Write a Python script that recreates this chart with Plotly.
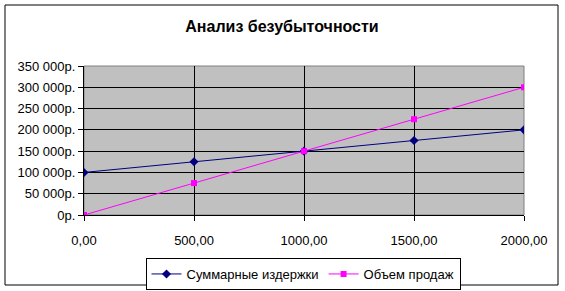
import plotly.graph_objects as go

volume = [0, 500, 1000, 1500, 2000]
total_costs = [100000, 125000, 150000, 175000, 200000]
sales = [0, 75000, 150000, 225000, 300000]

x_tickvals = [0, 500, 1000, 1500, 2000]
x_ticktext = ["0,00", "500,00", "1000,00", "1500,00", "2000,00"]
y_tickvals = [0, 50000, 100000, 150000, 200000, 250000, 300000, 350000]
y_ticktext = ["0р.", "50 000р.", "100 000р.", "150 000р.", "200 000р.",
              "250 000р.", "300 000р.", "350 000р."]

W, H = 565, 291
L, R, T, B = 84, 41, 66, 76
pw, ph = W - L - R, H - T - B

def px_x(x):
    return (x - L) / pw

def px_y(y):
    return (H - B - y) / ph

FAM = "Liberation Sans, Arial, sans-serif"
font = dict(family=FAM, size=13, color="black")

fig = go.Figure()
fig.add_trace(go.Scatter(
    x=volume, y=total_costs, name="Суммарные издержки", mode="lines+markers",
    line=dict(color="#000080", width=1),
    marker=dict(symbol="diamond", size=7, color="#000080"),
))
fig.add_trace(go.Scatter(
    x=volume, y=sales, name="Объем продаж", mode="lines+markers",
    line=dict(color="#FF00FF", width=1),
    marker=dict(symbol="square", size=6, color="#FF00FF"),
))

fig.update_layout(
    width=W, height=H,
    margin=dict(l=L, r=R, t=T, b=B, autoexpand=False),
    paper_bgcolor="white",
    plot_bgcolor="#C0C0C0",
    font=font,
    title=dict(text="<b>Анализ безубыточности</b>", x=282 / W, xanchor="center",
               y=1 - 26 / H, yanchor="middle", yref="container",
               font=dict(family=FAM, size=16, color="black")),
    showlegend=True,
    legend=dict(orientation="h", x=px_x(303), xanchor="center", y=px_y(258), yanchor="top",
                bordercolor="black", borderwidth=1, bgcolor="white",
                font=dict(family=FAM, size=13, color="black"),
                itemwidth=30, tracegroupgap=0),
    shapes=[
        dict(type="rect", xref="paper", yref="paper", x0=0, x1=1, y0=0, y1=1,
             line=dict(color="#808080", width=1), fillcolor="rgba(0,0,0,0)", layer="below"),
        dict(type="rect", xref="paper", yref="paper",
             x0=px_x(5), x1=px_x(558), y0=px_y(285), y1=px_y(5),
             line=dict(color="black", width=1), fillcolor="rgba(0,0,0,0)", layer="above"),
    ],
)

fig.update_xaxes(
    range=[0, 2000], tickvals=x_tickvals, ticktext=x_ticktext,
    showgrid=True, gridcolor="black", gridwidth=1,
    showline=True, linecolor="black", linewidth=1,
    ticks="outside", ticklen=5, tickcolor="black", zeroline=False,
    ticklabelstandoff=8,
)
fig.update_yaxes(
    range=[0, 350000], tickvals=y_tickvals, ticktext=y_ticktext,
    showgrid=True, gridcolor="black", gridwidth=1,
    showline=True, linecolor="black", linewidth=1,
    ticks="outside", ticklen=5, tickcolor="black", zeroline=False,
)

fig.write_html("out.html")
